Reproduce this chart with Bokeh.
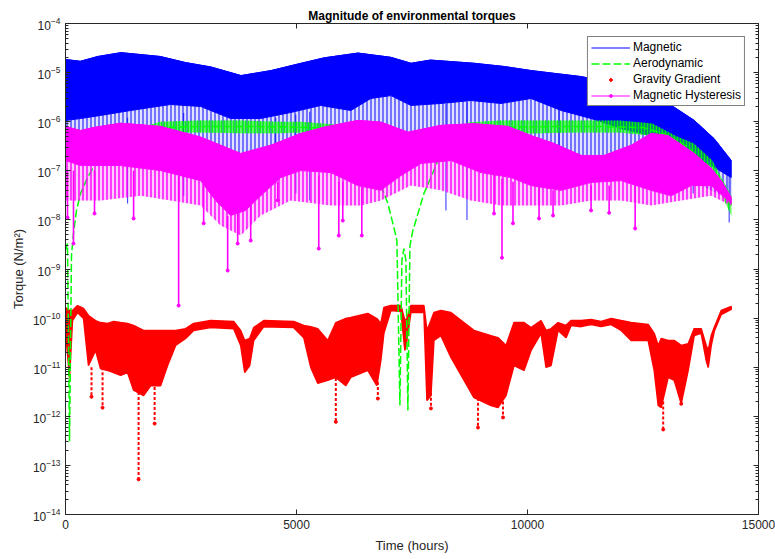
from bokeh.plotting import figure
from bokeh.models import (Range1d, LogAxis, LinearAxis, FixedTicker, Legend, LegendItem,
                          CustomJSTickFormatter)
from bokeh.embed import file_html
from bokeh.resources import INLINE

# ---------------- data (hours, N/m^2) ----------------
# Magnetic torque: upper envelope, lower edge of the dense band, extent of the light stripes
MAG_X_UP = [0, 320, 700, 1200, 2050, 2600, 3150, 3800, 4450, 5100, 5600, 6330, 7040, 7480,
            7900, 8840, 9500, 10080, 10600, 11160, 11800, 12460, 13050, 13610, 14040, 14410]
MAG_UP = [1.85e-5, 1.7e-5, 2.13e-5, 2.55e-5, 2.13e-5, 1.6e-5, 1.3e-5, 8.7e-6, 1.1e-5, 1.55e-5,
          2.0e-5, 2.5e-5, 2.05e-5, 1.55e-5, 1.8e-5, 1.55e-5, 1.33e-5, 1.1e-5, 9.6e-6, 8.3e-6,
          6.3e-6, 3.9e-6, 2.35e-6, 1.06e-6, 4.5e-7, 1.62e-7]
MAG_X_MID = [0, 325, 758, 1409, 1842, 2275, 2925, 3575, 4225, 4876, 5525, 6176, 6609, 7043,
             7476, 8126, 8776, 9426, 10077, 10727, 11376, 12027, 12677, 13327, 13977, 14410]
MAG_MID = [1.06e-6, 1.16e-6, 1.34e-6, 1.69e-6, 1.95e-6, 2.24e-6, 2.04e-6, 1.16e-6, 1.16e-6,
           1.54e-6, 2.14e-6, 1.69e-6, 2.97e-6, 3.4e-6, 2.14e-6, 2.35e-6, 2.7e-6, 2.35e-6,
           2.97e-6, 1.69e-6, 1.16e-6, 7.3e-7, 5.2e-7, 2.6e-7, 1.28e-7, 7.3e-8]
MAG_X_LOW = [0, 1842, 3792, 5092, 7260, 9426, 11593, 13760, 14410]
MAG_LOW = [4.1e-7, 2.6e-7, 1.62e-7, 2.6e-7, 2.6e-7, 2.6e-7, 1.28e-7, 5.0e-8, 2.48e-8]
MAG_SPK_X = [1343, 2557, 4550, 4984, 5287, 8235, 8690, 10683, 13587, 14366]
MAG_SPK_TOP = [1.2e-6, 1.5e-6, 1.2e-6, 1.4e-6, 1.6e-6, 2.3e-6, 2.5e-6, 1.8e-6, 2.7e-7, 8.0e-8]
MAG_SPK_BOT = [2.16e-8, 3.1e-8, 5.5e-8, 3.45e-8, 2.48e-8, 1.56e-8, 1.0e-8, 1.78e-7, 3.45e-8, 8.9e-9]

# Aerodynamic torque: mean curve and two oscillating bands
AERO_X = [0, 43, 87, 130, 173, 238, 325, 477, 693, 823, 1040, 1300, 1625, 2058, 3000, 4000,
          5000, 5700, 6200, 6566, 6761, 6978, 7108, 7173, 7238, 7281, 7325, 7368, 7411, 7455,
          7519, 7584, 7758, 7910, 8061, 8343, 8776, 9361, 10500, 11500, 12500, 13000, 13478,
          13912, 14193, 14410]
AERO_Y = [2.4e-9, 3.3e-9, 3.1e-13, 1.9e-9, 5.3e-9, 1.56e-8, 3.45e-8, 7.3e-8, 1.62e-7, 2.36e-7,
          3.3e-7, 4.55e-7, 6.6e-7, 7.6e-7, 8.0e-7, 8.0e-7, 7.8e-7, 7.3e-7, 5.0e-7, 1.87e-7,
          7.3e-8, 2.16e-8, 7.0e-9, 3.8e-9, 1.66e-12, 1.5e-9, 2.6e-9, 1.5e-9, 1.32e-12, 3.0e-9,
          6.1e-9, 9.7e-9, 3.45e-8, 7.3e-8, 1.62e-7, 4.1e-7, 7.3e-7, 7.6e-7, 8.0e-7, 8.0e-7,
          7.6e-7, 5.5e-7, 3.0e-7, 1.17e-7, 6.3e-8, 2.0e-8]
AERO_B1_X = [1625, 2058, 2900, 3800, 4600, 5100, 5700, 6300]
AERO_B1_UP = [7.6e-7, 1.0e-6, 1.06e-6, 1.06e-6, 1.0e-6, 1.0e-6, 9.0e-7, 8.0e-7]
AERO_B1_LO = [5.5e-7, 6.0e-7, 6.0e-7, 5.8e-7, 5.8e-7, 6.0e-7, 6.0e-7, 5.5e-7]
AERO_B2_X = [8700, 9400, 10000, 11000, 12000, 12700, 13200, 13600, 14000, 14410]
AERO_B2_UP = [9.6e-7, 1.06e-6, 1.06e-6, 1.06e-6, 1.06e-6, 9.2e-7, 5.2e-7, 3.6e-7, 1.62e-7, 3.1e-8]
AERO_B2_LO = [5.2e-7, 5.75e-7, 5.75e-7, 6.0e-7, 6.0e-7, 5.2e-7, 2.6e-7, 1.87e-7, 8.0e-8, 1.23e-8]

# Gravity gradient torque: upper and lower edge of the band, deep spikes
GRAV_X = [0, 87, 152, 260, 390, 498, 650, 758, 910, 1040, 1192, 1343, 1474, 1690, 1842, 2058,
          2210, 2384, 2600, 2774, 3142, 3640, 3792, 3879, 3987, 4074, 4291, 4941, 5157, 5309,
          5460, 5677, 5851, 6068, 6176, 6544, 6739, 6826, 6891, 7043, 7260, 7346, 7390, 7476,
          7758, 7823, 7910, 7975, 8126, 8343, 8841, 9210, 9361, 9535, 9708, 9925, 10077, 10293,
          10402, 10510, 10662, 10835, 10943, 11160, 11376, 11593, 11810, 12027, 12243, 12612,
          12742, 12829, 12894, 13045, 13175, 13327, 13478, 13609, 13760, 13868, 13912, 13977,
          14042, 14193, 14410]
GRAV_UP = [1.64e-10, 1.43e-10, 1.43e-10, 1.8e-10, 1.57e-10, 1.13e-10, 8.9e-11, 8.1e-11, 7.8e-11,
           8.5e-11, 8.1e-11, 7.8e-11, 7.1e-11, 5.6e-11, 5.6e-11, 5.6e-11, 5.6e-11, 5.6e-11,
           6.1e-11, 7.8e-11, 8.9e-11, 8.5e-11, 5.6e-11, 3.5e-11, 3.85e-11, 6.4e-11, 8.9e-11,
           8.5e-11, 7.1e-11, 6.7e-11, 6.1e-11, 3.5e-11, 8.1e-11, 9.8e-11, 1.03e-10, 1.24e-10,
           9.8e-11, 7.8e-11, 1.64e-10, 1.8e-10, 1.8e-10, 8.9e-11, 9.8e-11, 1.8e-10, 1.8e-10,
           5.6e-11, 8.9e-11, 1.3e-10, 1.43e-10, 1.3e-10, 5.6e-11, 4.4e-11, 4.0e-11, 2.77e-11,
           8.1e-11, 8.1e-11, 6.4e-11, 8.9e-11, 5.6e-11, 6.1e-11, 8.1e-11, 7.1e-11, 8.9e-11,
           8.9e-11, 9.4e-11, 8.5e-11, 9.8e-11, 8.9e-11, 8.1e-11, 7.4e-11, 4.9e-11, 2.77e-11,
           3.85e-11, 3.5e-11, 3.5e-11, 2.77e-11, 3.0e-11, 6.1e-11, 6.1e-11, 2.77e-11, 2.2e-11,
           4.4e-11, 6.4e-11, 1.43e-10, 1.72e-10]
GRAV_LO = [5.6e-11, 6.2e-12, 8.9e-11, 1.3e-10, 9.8e-11, 1.08e-11, 2.2e-11, 9.4e-12, 8.6e-12,
           7.8e-12, 6.8e-12, 7.8e-12, 3.4e-12, 2.65e-12, 4.2e-12, 4.2e-12, 1.08e-11, 2.77e-11,
           3.85e-11, 5.6e-11, 6.4e-11, 6.1e-11, 2.77e-11, 7.8e-12, 1.08e-11, 3.5e-11, 6.7e-11,
           6.4e-11, 4.0e-11, 9.9e-12, 4.7e-12, 5.4e-12, 6.2e-12, 4.2e-12, 6.2e-12, 8.6e-12,
           4.2e-12, 1.37e-11, 4.9e-11, 1.43e-10, 1.36e-10, 2.2e-11, 3.5e-11, 1.3e-10, 1.3e-10,
           2.1e-12, 2.65e-12, 3.5e-11, 4.4e-11, 1.58e-11, 2.4e-12, 1.66e-12, 1.51e-12, 2.65e-12,
           1.08e-11, 8.6e-12, 2.2e-11, 4.9e-11, 9.9e-12, 1.08e-11, 5.6e-11, 4.0e-11, 7.1e-11,
           6.7e-11, 7.4e-11, 6.7e-11, 7.4e-11, 5.6e-11, 3.5e-11, 3.5e-11, 8.6e-12, 1.66e-12,
           1.51e-12, 6.2e-12, 5.4e-12, 1.82e-12, 8.6e-12, 4.4e-11, 4.9e-11, 1.37e-11, 9.9e-12,
           2.77e-11, 5.4e-11, 1.18e-10, 1.5e-10]
GRAV_SPK_X = [563, 802, 1582, 1929, 5851, 6761, 7910, 8928, 9470, 12937, 13327]
GRAV_SPK_TOP = [1e-11, 1e-11, 5e-12, 5e-12, 6e-12, 5e-12, 3e-12, 3e-12, 2e-12, 2e-12, 2e-12]
GRAV_SPK_BOT = [2.5e-12, 1.5e-12, 5.2e-14, 7.1e-13, 7.7e-13, 2.3e-12, 1.45e-12, 5.9e-13,
                9.5e-13, 5.4e-13, 1.8e-12]

# Magnetic hysteresis torque
HYST_X_UP = [0, 325, 607, 1192, 2058, 2925, 3792, 4442, 5092, 5591, 6328, 6826, 7411, 8126,
             8841, 9578, 10077, 10575, 11160, 11658, 12243, 12677, 13045, 13609, 13977, 14193, 14410]
HYST_UP = [8.0e-7, 6.6e-7, 7.6e-7, 9.3e-7, 8.0e-7, 4.85e-7, 2.25e-7, 3.3e-7, 5.75e-7, 7.7e-7,
           1.06e-6, 9.8e-7, 6.1e-7, 8.4e-7, 9.1e-7, 8.0e-7, 5.2e-7, 3.6e-7, 2.05e-7, 2.05e-7,
           3.3e-7, 5.75e-7, 5.2e-7, 2.25e-7, 1.12e-7, 6.3e-8, 2.86e-8]
HYST_X_MID = [0, 325, 1192, 2058, 2925, 3250, 3575, 3900, 4225, 4659, 5092, 5742, 6328, 6826,
              7260, 7693, 8343, 8993, 9643, 10077, 10727, 11376, 12027, 12677, 13110, 13543,
              13977, 14410]
HYST_MID = [1.62e-7, 1.28e-7, 1.28e-7, 1.01e-7, 6.3e-8, 2.48e-8, 1.23e-8, 1.56e-8, 3.1e-8,
            7.3e-8, 1.01e-7, 9.2e-8, 5.0e-8, 4.0e-8, 8.0e-8, 1.41e-7, 1.62e-7, 9.2e-8, 7.3e-8,
            5.0e-8, 4.0e-8, 5.8e-8, 6.3e-8, 4.0e-8, 3.1e-8, 5.0e-8, 5.0e-8, 2.16e-8]
HYST_X_LOW = [0, 758, 1625, 2275, 2925, 3358, 3792, 4225, 4876, 5742, 6392, 6826, 7476, 8126,
              8776, 9426, 10077, 10727, 11376, 12027, 12677, 13327, 13977, 14410]
HYST_LOW = [2.48e-8, 2.48e-8, 3.1e-8, 2.48e-8, 1.96e-8, 7.7e-9, 4.8e-9, 1.23e-8, 2.48e-8,
            1.96e-8, 1.96e-8, 2.48e-8, 5.0e-8, 4.0e-8, 2.48e-8, 1.96e-8, 1.96e-8, 1.96e-8,
            2.48e-8, 2.48e-8, 1.96e-8, 2.48e-8, 3.1e-8, 1.96e-8]
HYST_SPK_X = [43, 173, 628, 1474, 2449, 2990, 3510, 3727, 4009, 4594, 5482, 5916, 6002, 6414,
              9275, 9448, 9686, 10250, 10553, 11376, 11767, 12330]
HYST_SPK_TOP = [1e-7, 1e-7, 1e-7, 1e-7, 8e-8, 5e-8, 1.2e-8, 1.5e-8, 2e-8, 6e-8, 8e-8, 6e-8,
                6e-8, 5e-8, 1e-7, 7e-8, 6e-8, 5e-8, 4e-8, 5e-8, 5e-8, 5e-8]
HYST_SPK_BOT = [1.12e-8, 3.3e-9, 1.35e-8, 1.07e-8, 1.8e-10, 8.5e-9, 9.3e-10, 3.3e-9, 3.8e-9,
                2.5e-8, 2.6e-9, 4.8e-9, 9.7e-9, 4.8e-9, 1.35e-8, 1.7e-9, 8.5e-9, 1.07e-8,
                1.23e-8, 1.56e-8, 1.4e-8, 6.7e-9]

X_TICKS = [0, 5000, 10000, 15000]
Y_DECADES = list(range(-14, -3))

BLUE, GREEN, RED, MAGENTA = "#0000ff", "#00ff00", "#ff0000", "#ff00ff"
FONT = "Liberation Sans"
AX = "#262626"


def band(x_top, y_top, x_bot, y_bot):
    return list(x_top) + list(reversed(x_bot)), list(y_top) + list(reversed(y_bot))


p = figure(width=775, height=559, x_range=Range1d(0, 15000), y_range=Range1d(1e-14, 1e-4),
           y_axis_type="log", output_backend="svg", toolbar_location=None,
           min_border_left=65, min_border_right=17, min_border_top=23, min_border_bottom=45)
p.xgrid.visible = False
p.ygrid.visible = False
p.outline_line_color = AX
p.background_fill_color = "white"
p.border_fill_color = "white"

p.title.text = "Magnitude of environmental torques"
p.title.align = "center"
p.title.text_font = FONT
p.title.text_font_size = "12px"
p.title.text_font_style = "bold"
p.title.text_color = "black"
p.title.standoff = 2
p.title.offset = 0

# magnetic
xs, ys = band(MAG_X_MID, MAG_MID, MAG_X_LOW, MAG_LOW)
p.patch(xs, ys, fill_color=BLUE, fill_alpha=0.12, line_color=None,
        hatch_pattern="vertical_line", hatch_color=BLUE, hatch_alpha=0.75,
        hatch_scale=4, hatch_weight=1.3)
xs, ys = band(MAG_X_UP, MAG_UP, MAG_X_MID, MAG_MID)
p.patch(xs, ys, fill_color=BLUE, line_color=BLUE, line_width=1)
r_mag = p.line(MAG_X_UP, MAG_UP, line_color=BLUE, line_width=1)
p.segment(x0=MAG_SPK_X, y0=MAG_SPK_TOP, x1=MAG_SPK_X, y1=MAG_SPK_BOT, line_color=BLUE,
          line_alpha=0.7, line_width=1.2)

# gravity gradient
xs, ys = band(GRAV_X, GRAV_UP, GRAV_X, GRAV_LO)
p.patch(xs, ys, fill_color=RED, line_color=RED, line_width=1.5)
p.segment(x0=GRAV_SPK_X, y0=GRAV_SPK_TOP, x1=GRAV_SPK_X, y1=GRAV_SPK_BOT, line_color=RED,
          line_width=2, line_dash="3 2")
r_grav = p.scatter(GRAV_SPK_X, GRAV_SPK_BOT, marker="circle", size=3,
                   fill_color=RED, line_color=RED)

# aerodynamic
for bx, bu, bl in [(AERO_B1_X, AERO_B1_UP, AERO_B1_LO), (AERO_B2_X, AERO_B2_UP, AERO_B2_LO)]:
    xs, ys = band(bx, bu, bx, bl)
    p.patch(xs, ys, fill_color=GREEN, fill_alpha=0.55, line_color=None,
            hatch_pattern="vertical_line", hatch_color=GREEN, hatch_alpha=0.9,
            hatch_scale=3, hatch_weight=1.2)
r_aero = p.line(AERO_X, AERO_Y, line_color=GREEN, line_width=1.5, line_dash="8 3")

# hysteresis
xs, ys = band(HYST_X_MID, HYST_MID, HYST_X_LOW, HYST_LOW)
p.patch(xs, ys, fill_color=MAGENTA, fill_alpha=0.2, line_color=None,
        hatch_pattern="vertical_line", hatch_color=MAGENTA, hatch_alpha=0.9,
        hatch_scale=4, hatch_weight=1.6)
xs, ys = band(HYST_X_UP, HYST_UP, HYST_X_MID, HYST_MID)
p.patch(xs, ys, fill_color=MAGENTA, line_color=MAGENTA, line_width=1)
r_hl = p.line(HYST_X_UP, HYST_UP, line_color=MAGENTA, line_width=1)
p.segment(x0=HYST_SPK_X, y0=HYST_SPK_TOP, x1=HYST_SPK_X, y1=HYST_SPK_BOT, line_color=MAGENTA,
          line_width=1.6)
r_hm = p.scatter(HYST_SPK_X, HYST_SPK_BOT, marker="circle", size=3,
                 fill_color=MAGENTA, line_color=MAGENTA)

legend = Legend(items=[LegendItem(label="Magnetic", renderers=[r_mag]),
                       LegendItem(label="Aerodynamic", renderers=[r_aero]),
                       LegendItem(label="Gravity Gradient", renderers=[r_grav]),
                       LegendItem(label="Magnetic Hysteresis", renderers=[r_hl, r_hm])],
                location="top_right", border_line_color="black", border_line_width=1,
                background_fill_color="white", background_fill_alpha=1,
                label_text_font=FONT, label_text_font_size="12px", label_text_color="black",
                glyph_width=39, glyph_height=7, label_height=14, spacing=2, padding=3,
                margin=13, label_standoff=3)
p.add_layout(legend)

# axes
y_major = [10.0 ** e for e in Y_DECADES]
y_minor = [m * 10.0 ** e for e in Y_DECADES[:-1] for m in range(2, 10)]


def style_axis(ax):
    ax.axis_line_color = AX
    ax.major_tick_line_color = AX
    ax.minor_tick_line_color = AX
    ax.major_tick_in = 5
    ax.major_tick_out = 0
    ax.minor_tick_in = 3
    ax.minor_tick_out = 0
    ax.major_label_text_font = FONT
    ax.major_label_text_font_size = "12px"
    ax.major_label_text_color = AX
    ax.axis_label_text_font = FONT
    ax.axis_label_text_font_size = "13px"
    ax.axis_label_text_font_style = "normal"
    ax.axis_label_text_color = AX


xa = p.xaxis[0]
xa.ticker = FixedTicker(ticks=X_TICKS)
xa.axis_label = "Time (hours)"
xa.axis_label_standoff = 6
style_axis(xa)

ya = p.yaxis[0]
ya.ticker = FixedTicker(ticks=y_major, minor_ticks=y_minor)
ya.axis_label = "Torque (N/m²)"
ya.axis_label_standoff = 4
style_axis(ya)

blank = CustomJSTickFormatter(code="return ''")
top = LinearAxis(ticker=FixedTicker(ticks=X_TICKS), formatter=blank)
style_axis(top)
top.major_label_standoff = 0
top.axis_label_standoff = 0
top.major_label_text_font_size = "0px"
p.add_layout(top, "above")
right = LogAxis(ticker=FixedTicker(ticks=y_major, minor_ticks=y_minor), formatter=blank)
style_axis(right)
right.major_label_standoff = 0
right.axis_label_standoff = 0
right.major_label_text_font_size = "0px"
p.add_layout(right, "right")

open("out.html", "w").write(file_html(p, INLINE))
